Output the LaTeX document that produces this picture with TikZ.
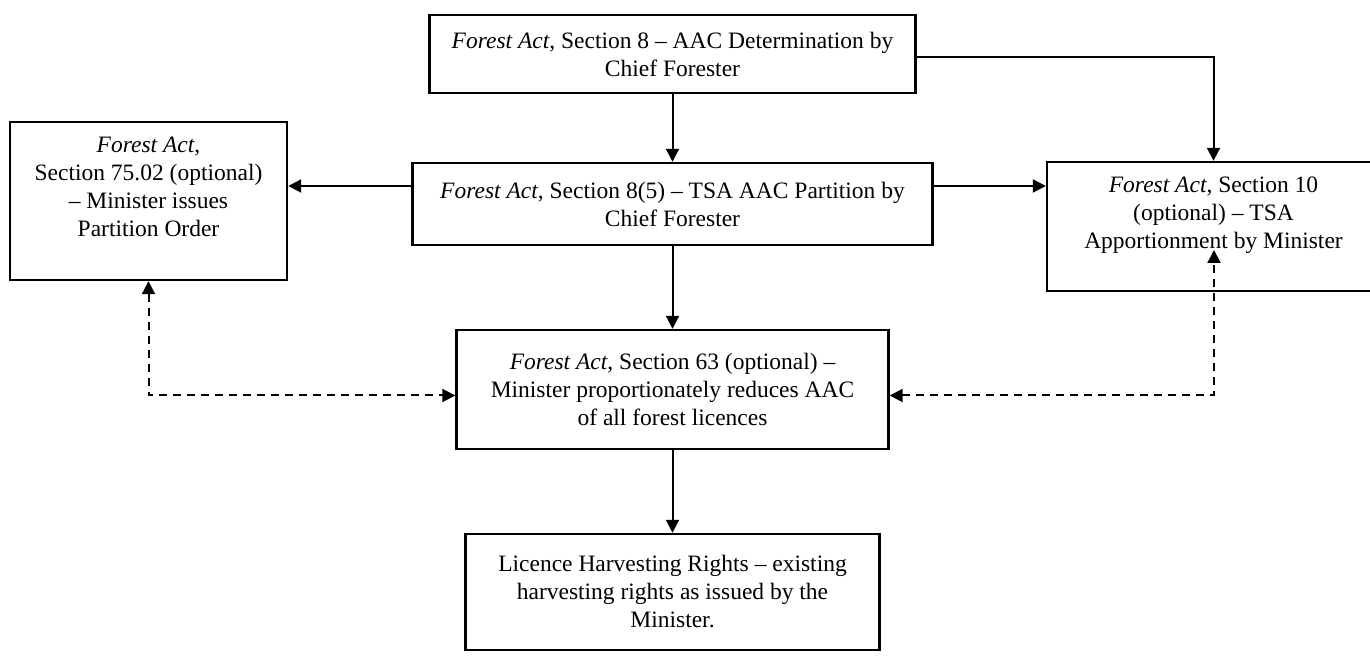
\documentclass[tikz,border=0pt]{standalone}
\usepackage{fontspec}
\setmainfont{Liberation Serif}
\usetikzlibrary{arrows.meta,positioning,calc}

\begin{document}
\begin{tikzpicture}[
    x=0.5pt, y=-0.5pt,
    font=\fontsize{11.75}{14}\selectfont,
    box/.style={rectangle, draw, line width=1.2pt, align=center, inner sep=0pt},
    arrow/.style={-{Triangle[length=6.5pt,width=6.5pt]}, line width=1pt},
    dasharrow/.style={{Triangle[length=6.5pt,width=6.5pt]}-{Triangle[length=6.5pt,width=6.5pt]}, line width=1pt, dash pattern=on 4pt off 3pt}
]
\useasboundingbox (0,0) rectangle (1370,656);
\clip (0,0) rectangle (1370,656);

% Sections of the Act
\node[box, minimum width=243pt, minimum height=39pt] (aacdet) at (672.5,54) {\textit{Forest Act}, Section 8 -- AAC Determination by\\Chief Forester};
\node[box, minimum width=260pt, minimum height=41pt] (partition) at (672.5,204) {\textit{Forest Act}, Section 8(5) -- TSA AAC Partition by\\Chief Forester};
\node[box, minimum width=138.5pt, minimum height=79pt] (partorder) at (148.5,201) {\textit{Forest Act},\\Section 75.02 (optional)\\-- Minister issues\\Partition Order\\\mbox{}};
\node[box, minimum width=166.5pt, minimum height=64.5pt] (apportion) at (1213.5,226.5) {\textit{Forest Act}, Section 10\\(optional) -- TSA\\Apportionment by Minister\\\mbox{}};
\node[box, minimum width=216pt, minimum height=59.5pt] (reduce) at (672.5,389.5) {\textit{Forest Act}, Section 63 (optional) --\\Minister proportionately reduces AAC\\of all forest licences};
\node[box, minimum width=207pt, minimum height=58pt] (rights) at (672.5,592) {Licence Harvesting Rights -- existing\\harvesting rights as issued by the\\Minister.};

% Arrows
\draw[arrow] (aacdet) -- (partition);
\draw[arrow] ([yshift=-1.5pt]aacdet.east) -| (apportion.north);
\draw[arrow] ([yshift=9pt]partition.west) -- ([yshift=9pt]partition.west -| partorder.east);
\draw[arrow] ([yshift=9pt]partition.east) -- ([yshift=9pt]partition.east -| apportion.west);
\draw[arrow] (partition) -- (reduce);
\draw[arrow] (reduce) -- (rights);

% Optional links
\coordinate (apptip) at (1214,250);
\draw[dasharrow] (partorder.south) |- ([yshift=-3pt]reduce.west);
\draw[dasharrow] ([yshift=-3pt]reduce.east) -| (apptip);

\end{tikzpicture}
\end{document}
